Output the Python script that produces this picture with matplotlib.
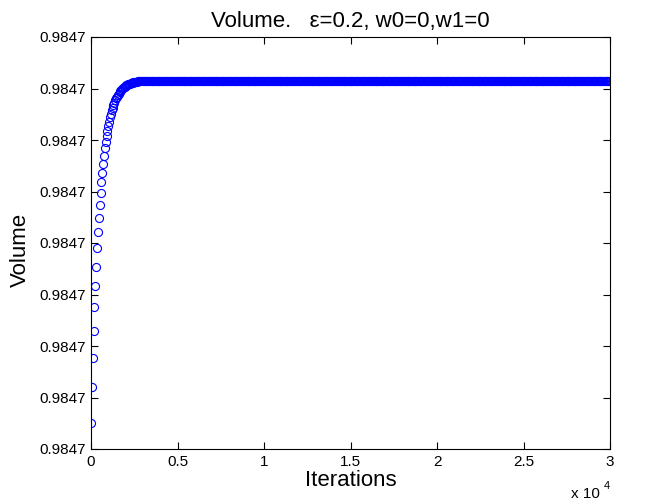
import numpy as np
import matplotlib
matplotlib.use("Agg")
import matplotlib.pyplot as plt
from matplotlib.ticker import FuncFormatter

plt.rcParams['font.family'] = ['Liberation Sans', 'DejaVu Sans']

# volume = base + offset * 1e-6, one sample every 50 iterations
base = 0.9847
step = 50
n_iter = 30000

# rising part (micro-units above the base)
rise = [0.505, 1.204, 1.767, 2.291, 2.757, 3.165, 3.534, 3.903, 4.214, 4.485,
        4.738, 4.971, 5.184, 5.359, 5.534, 5.689, 5.845, 5.961, 6.078, 6.175,
        6.272, 6.350, 6.441, 6.511, 6.575, 6.631, 6.682, 6.728, 6.771, 6.808,
        6.843, 6.874, 6.901, 6.926, 6.950, 6.971, 6.989, 7.006, 7.021, 7.035,
        7.048, 7.059, 7.069, 7.078, 7.087, 7.094, 7.101, 7.107, 7.112, 7.117,
        7.122, 7.126, 7.130, 7.134, 7.137, 7.140, 7.143, 7.146, 7.148, 7.150]
plateau = 7.152

iters = np.arange(0, n_iter + step, step)
offset = np.array(rise + [plateau] * (len(iters) - len(rise)))
volume = base + offset * 1e-6

fig = plt.figure(figsize=(6.72, 5.04), dpi=100)
ax = fig.add_axes([91 / 672, 55 / 504, 519 / 672, 412 / 504])

ax.plot(iters, volume, 'o', mfc='none', mec=(0, 0, 1), ms=5.8, mew=0.8)

ax.set_xlim(0, n_iter)
ylo, yhi = base, base + 8e-6
ax.set_ylim(ylo, yhi)
ax.set_xticks(np.arange(0, n_iter + 1, 5000))
ax.set_yticks(np.linspace(ylo, yhi, 9))
ax.xaxis.set_major_formatter(FuncFormatter(lambda v, p: '%g' % (v / 1e4)))
ax.yaxis.set_major_formatter(FuncFormatter(lambda v, p: '%.4f' % v))

ax.tick_params(direction='in', length=5, width=0.8, top=True, right=True,
               labelsize=11, pad=4)
for s in ax.spines.values():
    s.set_linewidth(0.8)

ax.set_title(u'Volume.   \u03b5=0.2, w0=0,w1=0', fontsize=16, pad=7)
ax.set_xlabel('Iterations', fontsize=16, labelpad=1)
ax.set_ylabel('Volume', fontsize=16)
ax.yaxis.set_label_coords(-0.115, 0.483)

ax.text(0.925, -0.11, 'x 10', transform=ax.transAxes, fontsize=11,
        ha='left', va='center')
ax.text(0.987, -0.09, '4', transform=ax.transAxes, fontsize=8,
        ha='left', va='center')

fig.savefig('out.png', dpi=100)
